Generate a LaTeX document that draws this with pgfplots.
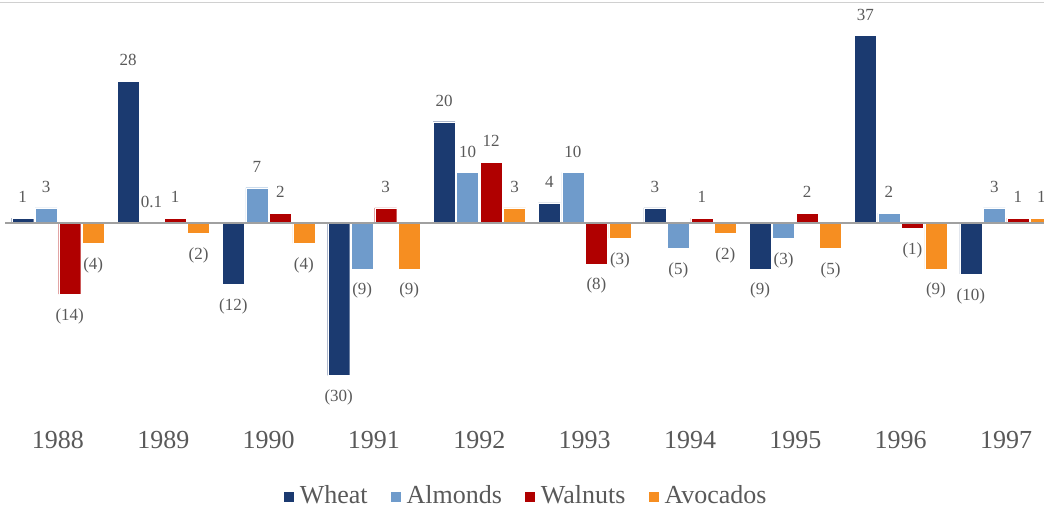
\documentclass[border=0pt]{standalone}
\usepackage{pgfplots}
\usepackage{pgfplotstable}
\pgfplotsset{compat=1.18}
\usepackage{fontspec}
\setmainfont{Liberation Serif}
\definecolor{cWheat}{HTML}{1B3A70}
\definecolor{cAlm}{HTML}{6F9BCB}
\definecolor{cWal}{HTML}{B00000}
\definecolor{cAvo}{HTML}{F68E21}
\definecolor{txt}{HTML}{595959}
\definecolor{zl}{HTML}{A0A0A0}
\definecolor{tl}{HTML}{D0D0D0}

\pgfplotstableread{
x wheat wl alm al wal nl avo vl
0 1 1 3 3 -14 (14) -4 (4)
1 28 28 0.1 0.1 1 1 -2 (2)
2 -12 (12) 7 7 2 2 -4 (4)
3 -30 (30) -9 (9) 3 3 -9 (9)
4 20 20 10 10 12 12 3 3
5 4 4 10 10 -8 (8) -3 (3)
6 3 3 -5 (5) 1 1 -2 (2)
7 -9 (9) -3 (3) 2 2 -5 (5)
8 37 37 2 2 -1 (1) -9 (9)
9 -10 (10) 3 3 1 1 1 1
}\data

\begin{document}
\begin{tikzpicture}
\begin{axis}[name=ax, at={(0,0)}, anchor=south west,
  width=1044pt, height=413pt, scale only axis,
  xmin=-0.55, xmax=9.36, ymin=-38, ymax=43.4,
  ybar=1.5pt, bar width=22pt,
  axis line style={draw=none},
  ytick=\empty,
  xtick={0,1,2,3,4,5,6,7,8,9},
  xticklabels={1988,1989,1990,1991,1992,1993,1994,1995,1996,1997},
  major tick length=0pt,
  xticklabel style={anchor=center, yshift=-24pt, font=\fontsize{26}{30}\selectfont, text=txt},
  nodes near coords, point meta=explicit symbolic,
  visualization depends on={y \as \rawy},
  nodes near coords style={font=\fontsize{17}{20}\selectfont, text=txt, anchor=center,
    yshift={(\rawy<0) ? -22 : 21}},
  legend columns=4,
  legend image code/.code={\path[#1, draw=none] (0pt,-7pt) rectangle (10pt,3pt);},
  legend style={at={(0.504,-0.191)}, anchor=center, draw=none, fill=none,
    font=\fontsize{26}{30}\selectfont, text=txt,
    /tikz/every odd column/.append style={column sep=4pt},
    /tikz/every even column/.append style={column sep=21pt}},
  clip=false,
]
\addplot[fill=cWheat, draw=white, line width=0.3pt] table[x=x, y=wheat, meta=wl]{\data};
\addplot[fill=cAlm, draw=white, line width=0.3pt] table[x=x, y=alm, meta=al]{\data};
\addplot[fill=cWal, draw=white, line width=0.3pt] table[x=x, y=wal, meta=nl]{\data};
\addplot[fill=cAvo, draw=white, line width=0.3pt] table[x=x, y=avo, meta=vl]{\data};
\legend{Wheat, Almonds, Walnuts, Avocados}
\draw[color=zl, line width=1.8pt] (axis cs:-0.5,0) -- (axis cs:9.36,0);
\draw[color=tl, line width=1pt] (rel axis cs:0,1) -- (rel axis cs:1,1);
\end{axis}
\pgfresetboundingbox
\path[use as bounding box] (0,-94pt) rectangle (1044pt,416pt);
\end{tikzpicture}
\end{document}
